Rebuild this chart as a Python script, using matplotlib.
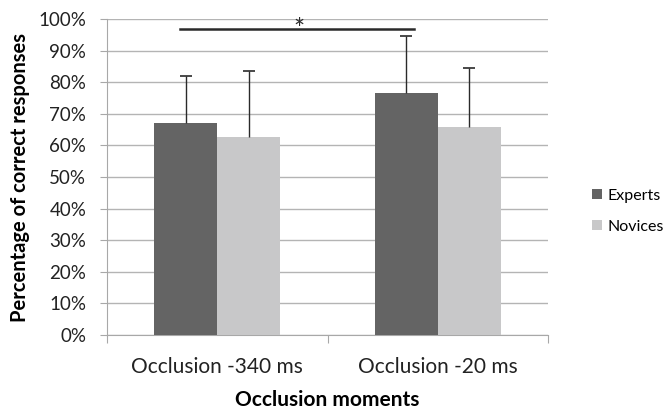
import numpy as np
import matplotlib.pyplot as plt
from matplotlib.ticker import PercentFormatter

plt.rcParams['font.family'] = ['Lato', 'DejaVu Sans']

categories = ['Occlusion -340 ms', 'Occlusion -20 ms']
groups = ['Experts', 'Novices']
experts = [67.0, 76.7]
novices = [62.8, 65.8]
experts_err = [14.9, 18.0]
novices_err = [20.6, 18.7]
sig_level = 96.7

colors = ['#646464', '#c8c8c9']

fig = plt.figure(figsize=(6.68, 4.12), dpi=100)
ax = fig.add_axes([107 / 668, 1 - 335 / 412, 441 / 668, 316 / 412])

x = np.arange(len(categories))
w = 0.286
for i, (vals, errs) in enumerate([(experts, experts_err), (novices, novices_err)]):
    pos = x + (i - 0.5) * w
    ax.bar(pos, vals, w, color=colors[i], label=groups[i], zorder=3)
    # one-sided error bars (upper only)
    _, caps, _ = ax.errorbar(pos, vals, yerr=[np.zeros(len(errs)), errs], fmt='none',
                             ecolor='#2a2a2a', elinewidth=1, capsize=4, capthick=1.2, zorder=4)
    caps[0].set_visible(False)

# significance line between experts at both moments
ax.plot([-0.169, 0.892], [sig_level, sig_level], color='#2a2a2a', lw=1.8, zorder=4)
ax.text(0.371, sig_level - 0.3, '*', ha='center', va='center', fontsize=19, color='#2a2a2a')

ax.set_xlim(-0.5, 1.5)
ax.set_ylim(0, 100)
ax.set_yticks(np.arange(0, 101, 10))
ax.yaxis.set_major_formatter(PercentFormatter(decimals=0))
ax.set_xticks([-0.5, 0.5, 1.5])
ax.set_xticklabels([])
ax.set_xticks(x, minor=True)
ax.set_xticklabels(categories, minor=True)
ax.tick_params(axis='x', which='minor', length=0, pad=16, labelsize=15, labelcolor='#222222')
ax.tick_params(axis='x', which='major', length=6, color='#a8a8a8')
ax.tick_params(axis='y', length=5, color='#a8a8a8', labelsize=13.5, labelcolor='#222222', pad=10)

ax.grid(axis='y', color='#b4b4b4', lw=1, zorder=0)
for s in ['top', 'right']:
    ax.spines[s].set_visible(False)
for s in ['left', 'bottom']:
    ax.spines[s].set_color('#a8a8a8')

ax.set_ylabel('Percentage of correct responses', fontsize=14.5, fontweight='bold', labelpad=6)
ax.set_xlabel('Occlusion moments', fontsize=15, fontweight='bold', labelpad=9)

ax.legend(loc='center left', bbox_to_anchor=(1.0998, 0.392), frameon=False, fontsize=11.5,
          handlelength=0.65, handleheight=0.65, handletextpad=0.35, labelspacing=1.05,
          borderpad=0, borderaxespad=0)

fig.savefig('out.png', dpi=100)
